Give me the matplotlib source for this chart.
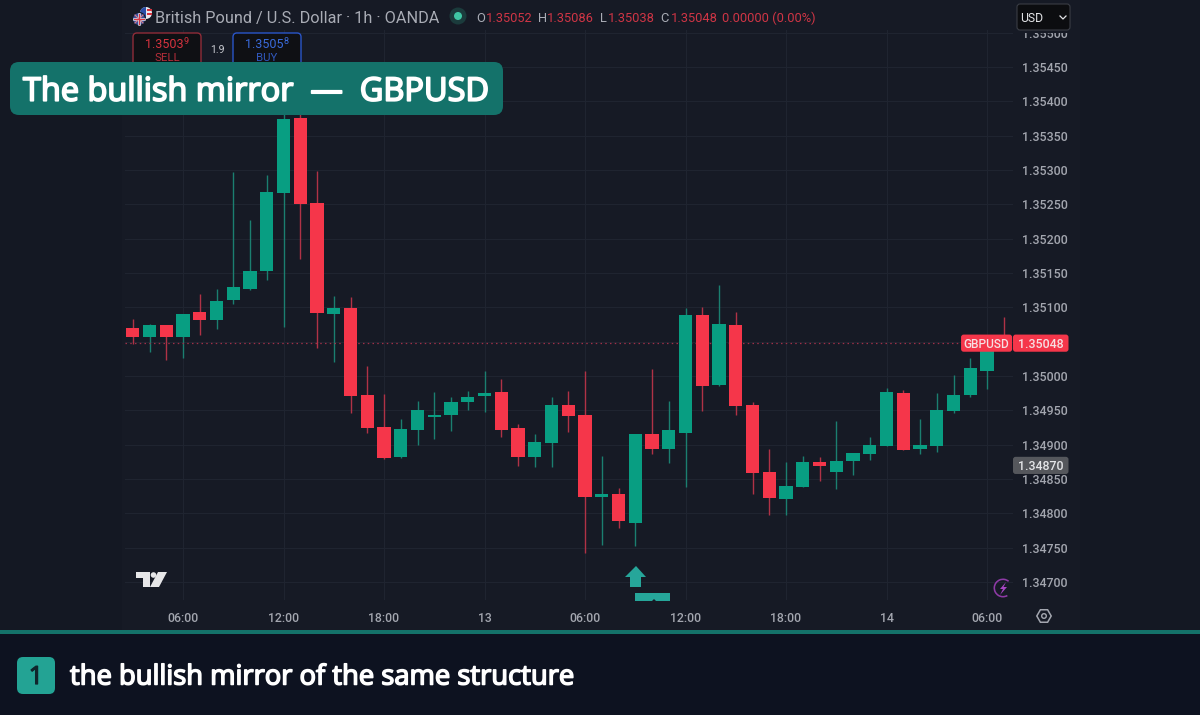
import matplotlib

matplotlib.use("Agg")
import matplotlib.patheffects as pe
import matplotlib.pyplot as plt
import numpy as np
from matplotlib.patches import Circle, FancyBboxPatch, Polygon, Rectangle, Wedge

# hourly GBPUSD candles (body of candle 9 and 10 top sit behind the banner)
opens = [1.35070, 1.35057, 1.35075, 1.35057, 1.35093, 1.35082, 1.35111, 1.35127, 1.35153, 1.35267,
         1.35376, 1.35252, 1.35090, 1.35099, 1.34972, 1.34926, 1.34882, 1.34922, 1.34940, 1.34944,
         1.34962, 1.34971, 1.34977, 1.34924, 1.34882, 1.34903, 1.34958, 1.34944, 1.34824, 1.34829,
         1.34786, 1.34915, 1.34894, 1.34917, 1.35089, 1.34987, 1.35075, 1.34958, 1.34860, 1.34821,
         1.34839, 1.34875, 1.34861, 1.34876, 1.34886, 1.34898, 1.34975, 1.34894, 1.34898, 1.34949,
         1.34972, 1.35008, 1.35052]
highs = [1.35083, 1.35076, 1.35075, 1.35090, 1.35119, 1.35127, 1.35297, 1.35227, 1.35293, 1.35385,
         1.35390, 1.35299, 1.35117, 1.35115, 1.35015, 1.34974, 1.34938, 1.34964, 1.34977, 1.34969,
         1.34978, 1.35007, 1.34996, 1.34930, 1.34915, 1.34969, 1.34978, 1.35008, 1.34884, 1.34837,
         1.34916, 1.35011, 1.34964, 1.35099, 1.35100, 1.35133, 1.35094, 1.34962, 1.34894, 1.34875,
         1.34884, 1.34882, 1.34934, 1.34888, 1.34911, 1.34982, 1.34980, 1.34938, 1.34976, 1.35001,
         1.35026, 1.35058, 1.35086]
lows = [1.35047, 1.35035, 1.35024, 1.35026, 1.35060, 1.35069, 1.35105, 1.35125, 1.35140, 1.35072,
        1.35170, 1.35041, 1.35020, 1.34946, 1.34917, 1.34879, 1.34881, 1.34900, 1.34909, 1.34920,
        1.34951, 1.34948, 1.34911, 1.34869, 1.34868, 1.34868, 1.34918, 1.34742, 1.34754, 1.34779,
        1.34752, 1.34886, 1.34874, 1.34838, 1.34949, 1.34986, 1.34943, 1.34828, 1.34798, 1.34798,
        1.34838, 1.34847, 1.34835, 1.34856, 1.34878, 1.34898, 1.34893, 1.34886, 1.34889, 1.34946,
        1.34970, 1.34981, 1.35038]
closes = [1.35057, 1.35075, 1.35057, 1.35090, 1.35082, 1.35110, 1.35130, 1.35153, 1.35268, 1.35375,
          1.35250, 1.35092, 1.35099, 1.34971, 1.34925, 1.34881, 1.34923, 1.34951, 1.34944, 1.34962,
          1.34969, 1.34975, 1.34922, 1.34882, 1.34904, 1.34958, 1.34942, 1.34824, 1.34829, 1.34789,
          1.34915, 1.34894, 1.34922, 1.35089, 1.34985, 1.35076, 1.34956, 1.34859, 1.34822, 1.34840,
          1.34875, 1.34869, 1.34876, 1.34888, 1.34900, 1.34977, 1.34893, 1.34900, 1.34950, 1.34972,
          1.35012, 1.35052, 1.35048]

price_ticks = [1.34700, 1.34750, 1.34800, 1.34850, 1.34900, 1.34950, 1.35000, 1.35050, 1.35100,
               1.35150, 1.35200, 1.35250, 1.35300, 1.35350, 1.35400, 1.35450, 1.35500]
time_ticks = [3, 9, 15, 21, 27, 33, 39, 45, 51]
time_labels = ["06:00", "12:00", "18:00", "13", "06:00", "12:00", "18:00", "14", "06:00"]
last_price = 1.35048
cursor_price = 1.34870

BG = "#161a25"
MARGIN = "#141823"
FOOT = "#0d1220"
TEAL = "#14726a"
GREEN = "#089e82"
RED = "#f5364a"
GREEN_WICK = "#1b7f70"
RED_WICK = "#b03246"
GRID = "#1f2430"
AXIS_TXT = "#a3a6af"

plt.rcParams["font.family"] = ["Open Sans", "Noto Sans", "DejaVu Sans"]

fig = plt.figure(figsize=(12, 7.15), dpi=100, facecolor=MARGIN)

# full-figure layer in pixels for the screenshot furniture
bg = fig.add_axes([0, 0, 1, 1], zorder=0)
bg.set_xlim(0, 1200)
bg.set_ylim(715, 0)
bg.axis("off")
bg.add_patch(Rectangle((122, 0), 958, 630, fc=BG, ec="none"))
bg.add_patch(Rectangle((0, 630), 1200, 85, fc=FOOT, ec="none"))
bg.add_patch(Rectangle((0, 630), 1200, 4, fc=TEAL, ec="none"))

# chart axes
left, right, top, bottom = 125, 1013, 30, 600
ax = fig.add_axes([left / 1200, 1 - bottom / 715, (right - left) / 1200, (bottom - top) / 715], zorder=1)
ax.patch.set_alpha(0)
ax.set_xlim(-0.463, 52.55)
ax.set_ylim(1.34674, 1.35504)
for side in ax.spines.values():
    side.set_visible(False)

ax.yaxis.tick_right()
ax.set_yticks(price_ticks)
ax.set_yticklabels([f"{p:.5f}" for p in price_ticks], fontsize=8.9, color=AXIS_TXT, family="Roboto", weight="medium")
ax.set_xticks(time_ticks)
ax.set_xticklabels(time_labels, fontsize=8.8, color=AXIS_TXT, family="Roboto", weight="medium")
ax.tick_params(axis="y", length=0, pad=6.5)
ax.tick_params(axis="x", length=0, pad=9)
ax.grid(True, color=GRID, lw=0.8)
ax.set_axisbelow(True)

x = np.arange(len(opens))
o = np.array(opens)
h = np.array(highs)
l = np.array(lows)
c = np.array(closes)
up = c >= o

ax.vlines(x[up], l[up], h[up], color=GREEN_WICK, lw=1.0, zorder=2)
ax.vlines(x[~up], l[~up], h[~up], color=RED_WICK, lw=1.0, zorder=2)
ax.bar(x[up], (c - o)[up], bottom=o[up], width=0.8, color=GREEN, zorder=3)
ax.bar(x[~up], (c - o)[~up], bottom=o[~up], width=0.8, color=RED, zorder=3)

ax.axhline(last_price, color="#a03048", lw=0.9, ls=(0, (1.2, 2.6)), zorder=2.5)

# price tags hang on the chart's y scale, mutation_aspect keeps the corners round in mixed units
trans = ax.get_yaxis_transform()
tag_h = 0.000125
tag_aspect = 0.0129


def price_tag(x0, width, price, colour):
    ax.add_patch(FancyBboxPatch((x0, price - tag_h), width, 2 * tag_h, transform=trans, clip_on=False,
                                boxstyle="round,pad=0,rounding_size=0.003", mutation_aspect=tag_aspect,
                                fc=colour, ec="none", zorder=5))


price_tag(0.9415, 0.0575, last_price, RED)
price_tag(1.0, 0.0625, last_price, RED)
price_tag(1.0, 0.0625, cursor_price, "#55575c")
ax.text(0.9695, last_price, "GBPUSD", transform=trans, ha="center", va="center_baseline", fontsize=8.6,
        color="#f6dfe2", family="Roboto", weight="medium", zorder=6)
ax.text(1.0315, last_price, f"{last_price:.5f}", transform=trans, ha="center", va="center_baseline", fontsize=8.9,
        color="#f6dfe2", family="Roboto", weight="medium", clip_on=False, zorder=6)
ax.text(1.0315, cursor_price, f"{cursor_price:.5f}", transform=trans, ha="center", va="center_baseline", fontsize=8.9,
        color="#e4e5e8", family="Roboto", weight="medium", clip_on=False, zorder=6)
# the round 1.35050 label is covered by the tag in the original
for lab, p in zip(ax.get_yticklabels(), price_ticks):
    if p == 1.35050:
        lab.set_visible(False)

# overlay layer for everything that sits on top of the chart
fg = fig.add_axes([0, 0, 1, 1], zorder=2)
fg.set_xlim(0, 1200)
fg.set_ylim(715, 0)
fg.axis("off")
fg.patch.set_alpha(0)


def rbox(x0, y0, x1, y1, r, fc, ec="none", lw=0):
    fg.add_patch(FancyBboxPatch((x0, y0), x1 - x0, y1 - y0, boxstyle=f"round,pad=0,rounding_size={r}",
                                fc=fc, ec=ec, lw=lw))


# header: flags
fg.add_patch(Circle((146, 13), 6, fc="#e8e8ee", ec="none"))
fg.add_patch(Wedge((146, 13), 6, 90, 270, fc="#2c4fa8", ec="none"))
fg.add_patch(Rectangle((147, 9), 5, 2, fc="#d8333f", ec="none"))
fg.add_patch(Rectangle((147, 13), 5, 2, fc="#d8333f", ec="none"))
fg.add_patch(Circle((139, 19), 6.5, fc="#3c4f9a", ec=BG, lw=0.8))
fg.plot([134, 144], [19, 19], color="#e8e8ee", lw=1.8)
fg.plot([139, 139], [14, 24], color="#e8e8ee", lw=1.8)
fg.plot([135, 143], [15, 23], color="#d8808a", lw=0.8)
fg.plot([135, 143], [23, 15], color="#d8808a", lw=0.8)
fg.plot([134, 144], [19, 19], color="#d8333f", lw=0.8)
fg.plot([139, 139], [14, 24], color="#d8333f", lw=0.8)

fg.text(155, 17, "British Pound / U.S. Dollar · 1h · OANDA", fontsize=11.7, color="#a9acb5", family="Roboto",
        va="center_baseline")
fg.add_patch(Circle((458, 16), 8.5, fc="#1b3b3c", ec="none"))
fg.add_patch(Circle((458, 16), 4, fc="#3fc6a4", ec="none"))

ohlc_grey = ["O", "H", "L", "C"]
ohlc_grey_x = [476, 538, 600, 660]
ohlc_vals = ["1.35052", "1.35086", "1.35038", "1.35048"]
ohlc_val_x = [486, 547, 608, 671]
for t, xp in zip(ohlc_grey, ohlc_grey_x):
    fg.text(xp, 17, t, fontsize=9.3, color="#a9acb5", family="Roboto", va="center_baseline")
for t, xp in zip(ohlc_vals, ohlc_val_x):
    fg.text(xp, 17, t, fontsize=9.3, color="#cf3545", family="Roboto", va="center_baseline")
fg.text(722, 17, "0.00000 (0.00%)", fontsize=9.3, color="#cf3545", family="Roboto", va="center_baseline")

# sell / buy boxes
rbox(133, 33, 201, 66, 4, "#0f1014", "#8f2c38", 1.0)
rbox(233, 33, 301, 66, 4, "#0f1014", "#2a55c8", 1.0)
fg.text(145, 43, "1.3503", fontsize=9, color="#d8333f", family="Roboto", va="center_baseline")
fg.text(184, 41, "9", fontsize=6.5, color="#d8333f", family="Roboto", va="center_baseline")
fg.text(167, 57, "SELL", fontsize=8.2, color="#b72e3a", family="Roboto", ha="center", va="center_baseline")
fg.text(245, 43, "1.3505", fontsize=9, color="#3a6bdc", family="Roboto", va="center_baseline")
fg.text(284, 41, "8", fontsize=6.5, color="#3a6bdc", family="Roboto", va="center_baseline")
fg.text(267, 57, "BUY", fontsize=8.2, color="#3158bd", family="Roboto", ha="center", va="center_baseline")
fg.text(217, 49, "1.9", fontsize=7.6, color="#c9cbd1", family="Roboto", ha="center", va="center_baseline")

# title banner
rbox(10, 62, 503, 115, 9, TEAL)
title = fg.text(23, 88.2, "The bullish mirror  —  GBPUSD", fontsize=23.4, color="white", va="center_baseline")
title.set_path_effects([pe.withStroke(linewidth=1.3, foreground="white")])

# USD button, the 1.35500 label is clipped right under it
fg.add_patch(Rectangle((1015, 29), 58, 3.5, fc=BG, ec="none"))
rbox(1017, 4, 1070, 30, 3, "#0c0d10", "#3a3d45", 0.8)
fg.text(1020, 17, "USD", fontsize=8.8, color="#e2e3e6", family="Roboto", va="center_baseline")
fg.plot([1060, 1063, 1066], [16, 19, 16], color="#e2e3e6", lw=0.9)

# tradingview logo
fg.add_patch(Polygon([(136, 572), (150, 572), (150, 587), (143, 587), (143, 578), (136, 578)], fc="#e6e6e8", ec="none"))
fg.add_patch(Circle((153.5, 575), 2.8, fc="#e6e6e8", ec="none"))
fg.add_patch(Polygon([(158, 572), (167, 572), (159, 587), (150, 587)], fc="#e6e6e8", ec="none"))

# arrow marker and bar under the low
fg.add_patch(Polygon([(636, 566), (646, 577), (641, 577), (641, 587), (630, 587), (630, 577), (625, 577)],
                     fc="#26a69a", ec="none"))
fg.add_patch(Polygon([(635, 593), (670, 593), (670, 601), (656, 601), (654, 599), (652, 601), (635, 601)],
                     fc="#26a69a", ec="none"))

# lightning badge and settings hexagon
fg.add_patch(Wedge((1003, 588), 9.5, 60, 310, width=1.6, fc="#8e3aa6", ec="none"))
fg.add_patch(Polygon([(1006, 582), (1000, 589), (1003, 589), (1000, 595), (1007, 587), (1003.5, 587)], fc="#a845c4", ec="none"))
angles = np.deg2rad(np.arange(0, 360, 60))
fg.add_patch(Polygon(np.c_[1044 + 7.2 * np.cos(angles), 616 + 7.2 * np.sin(angles)], fc="none", ec="#a3a6af", lw=1.1))
fg.add_patch(Circle((1044, 616), 2.3, fc="none", ec="#a3a6af", lw=1.0))

# footer caption
rbox(17, 657, 55, 694, 6, "#23a394")
badge = fg.text(36, 674.5, "1", fontsize=18, color="#10262c", ha="center", va="center_baseline")
badge.set_path_effects([pe.withStroke(linewidth=0.9, foreground="#10262c")])
caption = fg.text(70, 674, "the bullish mirror of the same structure", fontsize=19.7, color="white",
                  va="center_baseline")
caption.set_path_effects([pe.withStroke(linewidth=1.1, foreground="white")])

fig.savefig("out.png", dpi=100, facecolor=fig.get_facecolor())
